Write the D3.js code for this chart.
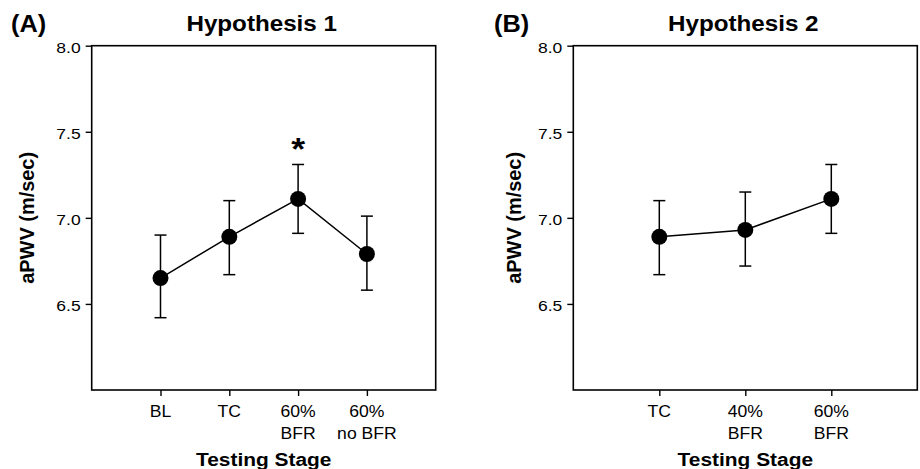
<!DOCTYPE html>
<html>
<head>
<meta charset="utf-8">
<script src="https://cdn.jsdelivr.net/npm/d3@7"></script>
<style>
  html, body { margin: 0; padding: 0; background: #fff; }
  svg { display: block; }
  text { font-family: "Liberation Sans", Arial, sans-serif; fill: #000; }
</style>
</head>
<body>
<svg id="chart" width="920" height="469"></svg>
<script>
// ---- Data ----
const yTicks = [6.5, 7.0, 7.5, 8.0];
const yDomain = [6.0, 8.0];

const catsA = ["BL", "TC", "60%|BFR", "60%|no BFR"];
const meanA = [6.65, 6.89, 7.11, 6.79];
const upperA = [6.90, 7.10, 7.31, 7.01];
const lowerA = [6.42, 6.67, 6.91, 6.58];
const sigA = [false, false, true, false];

const catsB = ["TC", "40%|BFR", "60%|BFR"];
const meanB = [6.89, 6.93, 7.11];
const upperB = [7.10, 7.15, 7.31];
const lowerB = [6.67, 6.72, 6.91];
const sigB = [false, false, false];

const titles = ["Hypothesis 1", "Hypothesis 2"];
const panelLetters = ["(A)", "(B)"];
const yLabel = "aPWV (m/sec)";
const xLabel = "Testing Stage";

// ---- Drawing ----
const svg = d3.select("#chart");
const plotTop = 45.7, plotBottom = 390;
const stretch = 1.1; // horizontal text stretch seen in the reference

function drawPanel(opts) {
  const { left, right, cats, mean, upper, lower, sig, title, letter, yLabelX, letterX } = opts;
  const g = svg.append("g");
  const n = cats.length;
  const x = d3.scaleLinear().domain([0, n + 1]).range([left, right]);
  const y = d3.scaleLinear().domain(yDomain).range([plotBottom, plotTop]);

  // frame
  g.append("rect")
    .attr("x", left).attr("y", plotTop)
    .attr("width", right - left).attr("height", plotBottom - plotTop)
    .attr("fill", "none").attr("stroke", "#000").attr("stroke-width", 1.6);

  // y axis
  const yAxis = d3.axisLeft(y).tickValues(yTicks).tickFormat(d3.format(".1f")).tickSize(6).tickPadding(5);
  const ya = g.append("g").attr("transform", `translate(${left},0)`).call(yAxis);
  ya.select(".domain").remove();
  ya.selectAll(".tick line").attr("stroke", "#000").attr("stroke-width", 1.4);
  ya.selectAll(".tick text")
    .attr("font-size", 15.5).attr("font-family", "Liberation Sans, Arial, sans-serif").attr("fill", "#000")
    .attr("x", null).attr("dy", null)
    .attr("transform", `translate(-11,6.5) scale(1.13,1)`);

  // x axis
  const xAxis = d3.axisBottom(x).tickValues(d3.range(1, n + 1)).tickFormat("").tickSize(6);
  const xa = g.append("g").attr("transform", `translate(0,${plotBottom})`).call(xAxis);
  xa.select(".domain").remove();
  xa.selectAll(".tick line").attr("stroke", "#000").attr("stroke-width", 1.4);

  // category labels (multi-line)
  cats.forEach((c, i) => {
    const lines = c.split("|");
    const t = g.append("text")
      .attr("transform", `translate(${x(i + 1)},417) scale(${stretch},1)`)
      .attr("text-anchor", "middle").attr("font-size", 16);
    lines.forEach((ln, j) => {
      t.append("tspan").attr("x", 0).attr("y", j * 22).text(ln);
    });
  });

  // line
  const line = d3.line().x((d, i) => x(i + 1)).y(d => y(d));
  g.append("path").datum(mean).attr("d", line)
    .attr("fill", "none").attr("stroke", "#000").attr("stroke-width", 1.5);

  // error bars
  const capW = 6;
  mean.forEach((m, i) => {
    const cx = x(i + 1);
    g.append("line").attr("x1", cx).attr("x2", cx).attr("y1", y(upper[i])).attr("y2", y(lower[i]))
      .attr("stroke", "#000").attr("stroke-width", 1.5);
    [upper[i], lower[i]].forEach(v => {
      g.append("line").attr("x1", cx - capW).attr("x2", cx + capW).attr("y1", y(v)).attr("y2", y(v))
        .attr("stroke", "#000").attr("stroke-width", 1.5);
    });
  });

  // points
  g.selectAll("circle.pt").data(mean).enter().append("circle")
    .attr("class", "pt")
    .attr("cx", (d, i) => x(i + 1)).attr("cy", d => y(d)).attr("r", 8)
    .attr("fill", "#000");

  // significance
  sig.forEach((s, i) => {
    if (!s) return;
    g.append("text").attr("transform", `translate(${x(i + 1)},${y(upper[i]) - 4}) scale(1.15,1)`)
      .attr("text-anchor", "middle").attr("font-size", 31).attr("font-weight", "bold").text("*");
  });

  // titles
  g.append("text").attr("transform", `translate(${(left + right) / 2 - 2},31) scale(${stretch},1)`)
    .attr("text-anchor", "middle").attr("font-size", 22).attr("font-weight", "bold").text(title);
  g.append("text").attr("transform", `translate(${letterX},32) scale(${stretch},1)`)
    .attr("font-size", 23).attr("font-weight", "bold").text(letter);
  g.append("text")
    .attr("transform", `translate(${yLabelX},${(plotTop + plotBottom) / 2}) rotate(-90) scale(1.05,1.05)`)
    .attr("text-anchor", "middle").attr("font-size", 19).attr("font-weight", "bold").text(yLabel);
  g.append("text").attr("transform", `translate(${(left + right) / 2},466) scale(${stretch},1)`)
    .attr("text-anchor", "middle").attr("font-size", 19).attr("font-weight", "bold").text(xLabel);
}

drawPanel({ left: 91.7, right: 435.7, cats: catsA, mean: meanA, upper: upperA, lower: lowerA, sig: sigA,
  title: titles[0], letter: panelLetters[0], yLabelX: 34, letterX: 11 });
drawPanel({ left: 573.3, right: 917.3, cats: catsB, mean: meanB, upper: upperB, lower: lowerB, sig: sigB,
  title: titles[1], letter: panelLetters[1], yLabelX: 521, letterX: 494 });
</script>
</body>
</html>
